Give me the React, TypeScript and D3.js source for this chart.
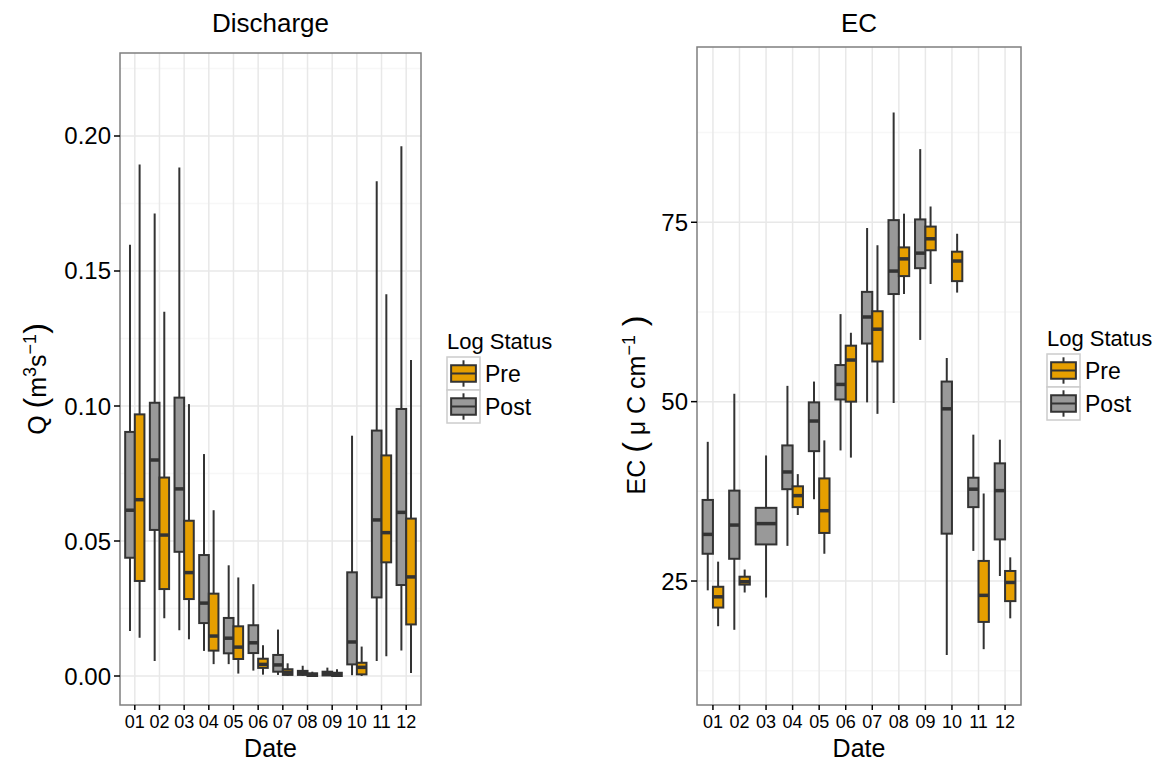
// Imports
import * as d3 from 'd3';
import React, { useEffect, useRef } from 'react';

// Months on the x axis
const months = ['01', '02', '03', '04', '05', '06', '07', '08', '09', '10', '11', '12'];

// Box stats per month: [lower whisker, q1, median, q3, upper whisker]
const qPost = [
  [0.0167, 0.0438, 0.0614, 0.0904, 0.1597],
  [0.0056, 0.0541, 0.0800, 0.1012, 0.1713],
  [0.0169, 0.0460, 0.0693, 0.1031, 0.1883],
  [0.0093, 0.0196, 0.0270, 0.0448, 0.0822],
  [0.0044, 0.0084, 0.0140, 0.0215, 0.0410],
  [0.0020, 0.0085, 0.0123, 0.0188, 0.0340],
  [0.0004, 0.0016, 0.0041, 0.0078, 0.0172],
  [0.0000, 0.0004, 0.0012, 0.0019, 0.0038],
  [0.0000, 0.0002, 0.0010, 0.0016, 0.0031],
  [0.0003, 0.0043, 0.0126, 0.0384, 0.0890],
  [0.0056, 0.0291, 0.0578, 0.0909, 0.1832],
  [0.0094, 0.0337, 0.0606, 0.0989, 0.1962],
];
const qPre = [
  [0.0142, 0.0352, 0.0653, 0.0969, 0.1894],
  [0.0214, 0.0322, 0.0522, 0.0735, 0.1349],
  [0.0136, 0.0285, 0.0383, 0.0575, 0.1007],
  [0.0044, 0.0094, 0.0148, 0.0305, 0.0614],
  [0.0009, 0.0063, 0.0107, 0.0184, 0.0365],
  [0.0005, 0.0030, 0.0043, 0.0064, 0.0114],
  [0.0000, 0.0004, 0.0014, 0.0025, 0.0047],
  [0.0000, 0.0000, 0.0005, 0.0010, 0.0016],
  [0.0000, 0.0000, 0.0006, 0.0012, 0.0025],
  [0.0000, 0.0006, 0.0032, 0.0049, 0.0109],
  [0.0073, 0.0421, 0.0531, 0.0817, 0.1414],
  [0.0011, 0.0191, 0.0367, 0.0583, 0.1170],
];
const ecPost = [
  [23.7, 28.8, 31.5, 36.3, 44.4],
  [18.2, 28.1, 32.8, 37.6, 51.1],
  [22.7, 30.1, 33.0, 35.2, 42.5],
  [29.9, 37.8, 40.2, 43.9, 52.2],
  [36.4, 43.1, 47.3, 49.9, 52.8],
  [43.2, 50.3, 52.4, 55.1, 62.2],
  [49.9, 58.1, 61.8, 65.3, 74.2],
  [49.8, 65.0, 68.2, 75.3, 90.3],
  [58.6, 68.6, 70.7, 75.4, 85.2],
  [14.7, 31.6, 49.0, 52.8, 56.1],
  [29.2, 35.3, 37.8, 39.4, 45.4],
  [25.7, 30.8, 37.6, 41.4, 44.7],
];
const ecPre = [
  [18.7, 21.3, 22.8, 24.2, 27.7],
  [23.4, 24.5, 24.9, 25.6, 26.6],
  null,
  [34.2, 35.3, 36.9, 38.2, 39.9],
  [28.8, 31.7, 34.8, 39.3, 44.6],
  [42.2, 50.0, 55.8, 57.8, 59.6],
  [48.3, 55.6, 60.1, 62.6, 71.8],
  [65.0, 67.5, 69.9, 71.5, 76.2],
  [66.4, 71.1, 72.7, 74.4, 77.2],
  [65.2, 66.8, 69.6, 70.9, 73.4],
  [15.5, 19.3, 23.0, 27.8, 37.2],
  [19.8, 22.2, 24.8, 26.4, 28.3],
];

const qTicks = [0, 0.05, 0.1, 0.15, 0.2];
const qMinor = [0.025, 0.075, 0.125, 0.175, 0.225];
const ecTicks = [25, 50, 75];
const ecMinor = [12.5, 37.5, 62.5, 87.5];

const legendTitle = 'Log Status';
const groups = ['Pre', 'Post'];
const colors = { Pre: '#E69F00', Post: '#999999' };

const font = '"Liberation Sans", Arial, Helvetica, sans-serif';
const ink = '#333333';

function drawPanel(svg, o) {
  const x = d3.scalePoint().domain(months).range([o.left, o.right]).padding(0.6);
  const y = d3.scaleLinear().domain(o.domain).range([o.bottom, o.top]);
  const step = x.step();
  const dodge = step * 0.78;

  // panel + grid
  svg.append('rect').attr('x', o.left).attr('y', o.top)
    .attr('width', o.right - o.left).attr('height', o.bottom - o.top).attr('fill', 'white');
  o.minor.forEach((v) => {
    svg.append('line').attr('x1', o.left).attr('x2', o.right).attr('y1', y(v)).attr('y2', y(v))
      .attr('stroke', '#f7f7f7').attr('stroke-width', 1.5);
  });
  o.ticks.forEach((v) => {
    svg.append('line').attr('x1', o.left).attr('x2', o.right).attr('y1', y(v)).attr('y2', y(v))
      .attr('stroke', '#e8e8e8').attr('stroke-width', 1.5);
  });
  months.forEach((m) => {
    svg.append('line').attr('x1', x(m)).attr('x2', x(m)).attr('y1', o.top).attr('y2', o.bottom)
      .attr('stroke', '#e8e8e8').attr('stroke-width', 1.5);
  });

  // boxes
  const drawBox = (s, cx, w, fill) => {
    const g = svg.append('g');
    g.append('line').attr('x1', cx).attr('x2', cx).attr('y1', y(s[0])).attr('y2', y(s[4]))
      .attr('stroke', ink).attr('stroke-width', 2);
    g.append('rect').attr('x', cx - w / 2).attr('y', y(s[3]))
      .attr('width', w).attr('height', Math.max(y(s[1]) - y(s[3]), 0.5))
      .attr('fill', fill).attr('stroke', ink).attr('stroke-width', 2);
    g.append('line').attr('x1', cx - w / 2).attr('x2', cx + w / 2).attr('y1', y(s[2])).attr('y2', y(s[2]))
      .attr('stroke', ink).attr('stroke-width', 3.5);
  };
  months.forEach((m, i) => {
    const post = o.post[i];
    const pre = o.pre[i];
    if (post && pre) {
      drawBox(post, x(m) - dodge / 4, dodge / 2, colors.Post);
      drawBox(pre, x(m) + dodge / 4, dodge / 2, colors.Pre);
    } else if (post) {
      drawBox(post, x(m), dodge, colors.Post);
    } else if (pre) {
      drawBox(pre, x(m), dodge, colors.Pre);
    }
  });

  // border
  svg.append('rect').attr('x', o.left).attr('y', o.top)
    .attr('width', o.right - o.left).attr('height', o.bottom - o.top)
    .attr('fill', 'none').attr('stroke', '#7f7f7f').attr('stroke-width', 1.5);

  // Y AXIS
  o.ticks.forEach((v) => {
    svg.append('line').attr('x1', o.left - 6).attr('x2', o.left).attr('y1', y(v)).attr('y2', y(v))
      .attr('stroke', 'black').attr('stroke-width', 1.5);
    svg.append('text').attr('x', o.left - 9).attr('y', y(v) + 8.5)
      .attr('text-anchor', 'end').attr('font-size', 24).attr('font-family', font)
      .text(o.fmt(v));
  });

  // X AXIS
  months.forEach((m) => {
    svg.append('line').attr('x1', x(m)).attr('x2', x(m)).attr('y1', o.bottom).attr('y2', o.bottom + 5)
      .attr('stroke', 'black').attr('stroke-width', 1.5);
    svg.append('text').attr('x', x(m)).attr('y', o.bottom + 23)
      .attr('text-anchor', 'middle').attr('font-size', 18).attr('font-family', font)
      .text(m);
  });
  svg.append('text').attr('x', (o.left + o.right) / 2).attr('y', 757)
    .attr('text-anchor', 'middle').attr('font-size', 25).attr('font-family', font)
    .text('Date');

  // TITLE
  svg.append('text').attr('x', (o.left + o.right) / 2).attr('y', 32)
    .attr('text-anchor', 'middle').attr('font-size', 26).attr('font-family', font)
    .text(o.title);

  // Y TITLE
  const yt = svg.append('text')
    .attr('transform', 'translate(' + o.ytX + ',' + o.ytY + ') rotate(-90)')
    .attr('text-anchor', 'middle').attr('font-size', 25).attr('font-family', font);
  o.ytParts.forEach((p) => {
    const t = yt.append('tspan').text(p.t);
    if (p.big) t.attr('font-size', 32);
    if (p.sup) t.attr('font-size', 18).attr('dy', -10);
    if (p.down) t.attr('dy', 10);
  });

  // LEGEND
  const lx = o.legendX;
  const ly = o.legendY;
  svg.append('text').attr('x', lx).attr('y', ly)
    .attr('font-size', 22).attr('font-family', font).text(legendTitle);
  groups.forEach((gname, i) => {
    const k = 33;
    const kx = lx;
    const ky = ly + 8 + i * k;
    svg.append('rect').attr('x', kx).attr('y', ky).attr('width', k).attr('height', k)
      .attr('fill', 'white').attr('stroke', '#cccccc').attr('stroke-width', 1.5);
    svg.append('line').attr('x1', kx + k / 2).attr('x2', kx + k / 2)
      .attr('y1', ky + k * 0.1).attr('y2', ky + k * 0.9).attr('stroke', ink).attr('stroke-width', 2);
    svg.append('rect').attr('x', kx + k * 0.125).attr('y', ky + k * 0.25)
      .attr('width', k * 0.75).attr('height', k * 0.5)
      .attr('fill', colors[gname]).attr('stroke', ink).attr('stroke-width', 2);
    svg.append('line').attr('x1', kx + k * 0.125).attr('x2', kx + k * 0.875)
      .attr('y1', ky + k / 2).attr('y2', ky + k / 2).attr('stroke', ink).attr('stroke-width', 2);
    svg.append('text').attr('x', kx + k + 5).attr('y', ky + k / 2 + 8)
      .attr('font-size', 23).attr('font-family', font).text(gname);
  });
}

export default function App() {
  const svgRef = useRef(null);
  const width = 1164;
  const height = 763;

  useEffect(() => {
    const svg = d3.select(svgRef.current);
    svg.selectAll('*').remove();

    // Discharge panel
    drawPanel(svg, {
      left: 120, right: 421, top: 53, bottom: 705,
      domain: [-0.01074, 0.23074],
      ticks: qTicks, minor: qMinor,
      fmt: d3.format('.2f'),
      post: qPost, pre: qPre,
      title: 'Discharge',
      ytX: 46, ytY: 379,
      ytParts: [
        { t: 'Q ' }, { t: '(', big: true }, { t: 'm' }, { t: '3', sup: true },
        { t: 's', down: true }, { t: '\u22121', sup: true }, { t: ')', big: true, down: true },
      ],
      legendX: 447, legendY: 349,
    });

    // EC panel
    drawPanel(svg, {
      left: 697, right: 1021, top: 47, bottom: 705,
      domain: [7.72, 99.43],
      ticks: ecTicks, minor: ecMinor,
      fmt: d3.format('d'),
      post: ecPost, pre: ecPre,
      title: 'EC',
      ytX: 645, ytY: 405,
      ytParts: [
        { t: 'EC ' }, { t: '(', big: true }, { t: ' \u03bc C cm' }, { t: '\u22121', sup: true },
        { t: ' )', big: true, down: true },
      ],
      legendX: 1047, legendY: 346,
    });
  }, []);

  return (
    <svg ref={svgRef} width={width} height={height}
      style={{ position: 'absolute', left: 0, top: 0, background: 'white' }} />
  );
}
